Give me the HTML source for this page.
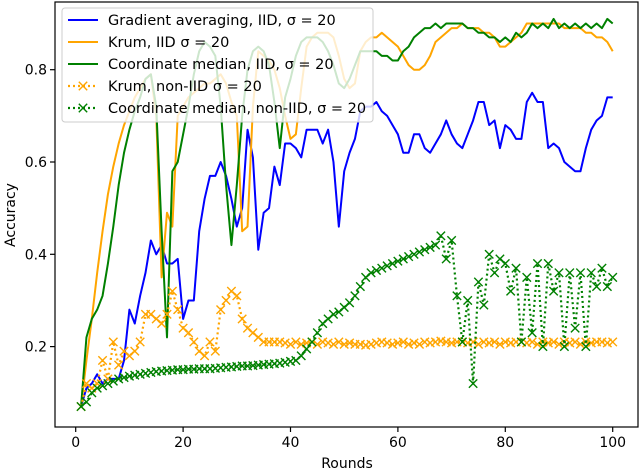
<!DOCTYPE html>
<html><head><meta charset="utf-8"><style>
html,body{margin:0;padding:0;background:#fff;}
svg{display:block;font-family:"DejaVu Sans","Liberation Sans",sans-serif;}
</style></head><body>
<svg id="chart" width="640" height="469" viewBox="0 0 640 469" xmlns="http://www.w3.org/2000/svg">
<g id="plot"></g>
<g id="axes"></g>
<g id="legend"></g>
</svg>
<script>
const xTicks = [0, 20, 40, 60, 80, 100];
const yTicks = [0.2, 0.4, 0.6, 0.8];
const gradAvgIID = [0.07,0.11,0.12,0.14,0.12,0.13,0.13,0.13,0.17,0.28,0.25,0.31,0.36,0.43,0.40,0.42,0.38,0.38,0.39,0.26,0.30,0.30,0.45,0.52,0.57,0.57,0.60,0.57,0.52,0.46,0.50,0.67,0.61,0.41,0.49,0.50,0.59,0.55,0.64,0.64,0.63,0.61,0.67,0.67,0.67,0.64,0.67,0.60,0.46,0.58,0.62,0.65,0.71,0.72,0.72,0.73,0.71,0.70,0.68,0.66,0.62,0.62,0.66,0.66,0.63,0.62,0.64,0.66,0.69,0.66,0.64,0.63,0.66,0.69,0.73,0.73,0.68,0.69,0.63,0.68,0.67,0.65,0.65,0.73,0.75,0.73,0.73,0.63,0.64,0.63,0.60,0.59,0.58,0.58,0.63,0.67,0.69,0.70,0.74,0.74];
const krumIID = [0.07,0.17,0.26,0.36,0.45,0.53,0.59,0.64,0.68,0.71,0.74,0.76,0.78,0.79,0.70,0.35,0.49,0.46,0.70,0.72,0.74,0.75,0.76,0.77,0.77,0.78,0.79,0.77,0.73,0.70,0.45,0.46,0.72,0.84,0.83,0.82,0.80,0.76,0.70,0.65,0.66,0.76,0.85,0.87,0.88,0.88,0.88,0.87,0.83,0.78,0.76,0.77,0.84,0.86,0.87,0.87,0.88,0.87,0.86,0.85,0.83,0.81,0.80,0.80,0.81,0.83,0.86,0.87,0.88,0.89,0.89,0.90,0.89,0.89,0.89,0.88,0.88,0.87,0.85,0.85,0.86,0.87,0.88,0.90,0.90,0.90,0.90,0.90,0.90,0.90,0.89,0.89,0.89,0.89,0.88,0.88,0.87,0.87,0.86,0.84];
const medianIID = [0.07,0.22,0.26,0.28,0.31,0.38,0.46,0.55,0.62,0.67,0.71,0.74,0.78,0.79,0.72,0.45,0.22,0.58,0.60,0.66,0.72,0.79,0.84,0.86,0.85,0.83,0.72,0.55,0.42,0.55,0.70,0.80,0.84,0.85,0.84,0.81,0.73,0.63,0.74,0.78,0.83,0.86,0.87,0.87,0.87,0.86,0.84,0.81,0.77,0.76,0.78,0.81,0.84,0.84,0.84,0.84,0.83,0.83,0.82,0.82,0.84,0.85,0.87,0.88,0.89,0.89,0.90,0.89,0.90,0.90,0.90,0.90,0.89,0.89,0.88,0.88,0.87,0.87,0.86,0.87,0.86,0.88,0.87,0.88,0.90,0.89,0.90,0.89,0.91,0.89,0.90,0.89,0.90,0.89,0.90,0.89,0.90,0.89,0.91,0.90];
const krumNonIID = [0.07,0.12,0.11,0.12,0.17,0.13,0.21,0.16,0.19,0.18,0.19,0.21,0.27,0.27,0.26,0.25,0.27,0.32,0.28,0.24,0.23,0.21,0.19,0.18,0.21,0.19,0.28,0.30,0.32,0.31,0.26,0.24,0.23,0.22,0.21,0.21,0.21,0.21,0.208,0.205,0.21,0.205,0.208,0.21,0.205,0.21,0.208,0.205,0.21,0.205,0.208,0.205,0.205,0.203,0.205,0.208,0.21,0.208,0.205,0.208,0.21,0.205,0.208,0.205,0.21,0.208,0.21,0.212,0.21,0.208,0.21,0.21,0.208,0.21,0.205,0.21,0.208,0.21,0.205,0.21,0.208,0.21,0.21,0.208,0.21,0.205,0.21,0.208,0.21,0.205,0.21,0.208,0.21,0.205,0.21,0.208,0.21,0.21,0.208,0.21];
const medianNonIID = [0.07,0.08,0.10,0.11,0.115,0.12,0.125,0.13,0.133,0.136,0.138,0.14,0.142,0.144,0.146,0.147,0.148,0.149,0.15,0.15,0.151,0.151,0.152,0.152,0.152,0.153,0.154,0.155,0.156,0.157,0.158,0.158,0.159,0.16,0.161,0.162,0.163,0.164,0.166,0.168,0.17,0.18,0.195,0.21,0.23,0.25,0.26,0.27,0.275,0.285,0.295,0.31,0.33,0.35,0.36,0.365,0.37,0.375,0.38,0.385,0.39,0.395,0.40,0.405,0.41,0.415,0.42,0.44,0.39,0.43,0.31,0.21,0.30,0.12,0.34,0.29,0.40,0.36,0.39,0.38,0.32,0.37,0.21,0.35,0.23,0.38,0.20,0.38,0.32,0.36,0.20,0.36,0.24,0.36,0.20,0.36,0.33,0.37,0.33,0.35];

const NS='http://www.w3.org/2000/svg';
const L=55,R=638,T=2,B=427;
function xs(v){return 75.7+v*5.37;}
function ys(v){return 438.9-v*461.5;}
function mk(tag,attrs,parent){const e=document.createElementNS(NS,tag);for(const k in attrs)e.setAttribute(k,attrs[k]);parent.appendChild(e);return e;}
const plot=document.getElementById('plot'),axes=document.getElementById('axes'),leg=document.getElementById('legend');

function drawLine(arr,color,name,dotted,markers){
  const pts=arr.map((v,i)=>xs(i+1).toFixed(2)+','+ys(v).toFixed(2)).join(' ');
  const pl=mk('polyline',{points:pts,fill:'none',stroke:color,'stroke-width':dotted?2.2:2,'stroke-linejoin':'round'},plot);
  if(dotted){pl.setAttribute('stroke-dasharray','2,3');}
  
  
  if(markers){
    arr.forEach((v,i)=>{
      const cx=xs(i+1),cy=ys(v),s=4.2;
      const p=mk('path',{d:`M${cx-s},${cy-s}L${cx+s},${cy+s}M${cx-s},${cy+s}L${cx+s},${cy-s}`,stroke:color,'stroke-width':1.4,fill:'none'},plot);
      
      
    });
  }
}
drawLine(gradAvgIID,'#0000ff','gradient-averaging-iid',false,false);
drawLine(krumIID,'#ffa500','krum-iid',false,false);
drawLine(medianIID,'#008000','coordinate-median-iid',false,false);
drawLine(krumNonIID,'#ffa500','krum-non-iid',true,true);
drawLine(medianNonIID,'#008000','coordinate-median-non-iid',true,true);

const fr=mk('rect',{x:L,y:T,width:R-L,height:B-T,fill:'none',stroke:'#000','stroke-width':1.2},axes);


xTicks.forEach(t=>{
  const x=xs(t);
  const tk=mk('line',{x1:x,x2:x,y1:B,y2:B+5,stroke:'#000','stroke-width':1.2},axes);
  
  
  const tx=mk('text',{x:x,y:B+20,'text-anchor':'middle','font-size':14,fill:'#000'},axes);
  tx.textContent=t;
  
  
});
yTicks.forEach(t=>{
  const y=ys(t);
  const tk=mk('line',{x1:L-5,x2:L,y1:y,y2:y,stroke:'#000','stroke-width':1.2},axes);
  
  
  const tx=mk('text',{x:L-8,y:y+5,'text-anchor':'end','font-size':14,fill:'#000'},axes);
  tx.textContent=t.toFixed(1);
  
  
});
const xt=mk('text',{x:347,y:468,'text-anchor':'middle','font-size':14,fill:'#000'},axes);
xt.textContent='Rounds';


const yt=mk('text',{x:0,y:0,'text-anchor':'middle','font-size':14,fill:'#000',transform:'translate(15,215) rotate(-90)'},axes);
yt.textContent='Accuracy';



const lb=mk('rect',{x:62,y:8,width:311,height:114,rx:3,fill:'rgba(255,255,255,0.8)',stroke:'#cccccc','stroke-width':1},leg);


const entries=[['Gradient averaging, IID, σ = 20','#0000ff',false],['Krum, IID σ = 20','#ffa500',false],['Coordinate median, IID, σ = 20','#008000',false],['Krum, non-IID σ = 20','#ffa500',true],['Coordinate median, non-IID, σ = 20','#008000',true]];
entries.forEach((e,i)=>{
  const y=20+i*22;
  const g=mk('g',{},leg);
  
  
  const ln=mk('line',{x1:68,x2:98,y1:y,y2:y,stroke:e[1],'stroke-width':e[2]?2.2:2},g);
  if(e[2]){ln.setAttribute('stroke-dasharray','2,3');
    mk('path',{d:`M${83-4.2},${y-4.2}L${83+4.2},${y+4.2}M${83-4.2},${y+4.2}L${83+4.2},${y-4.2}`,stroke:e[1],'stroke-width':1.4},g);}
  const tx=mk('text',{x:108,y:y+5,'font-size':14.5,fill:'#000'},g);
  tx.textContent=e[0];
});
</script>
</body></html>
